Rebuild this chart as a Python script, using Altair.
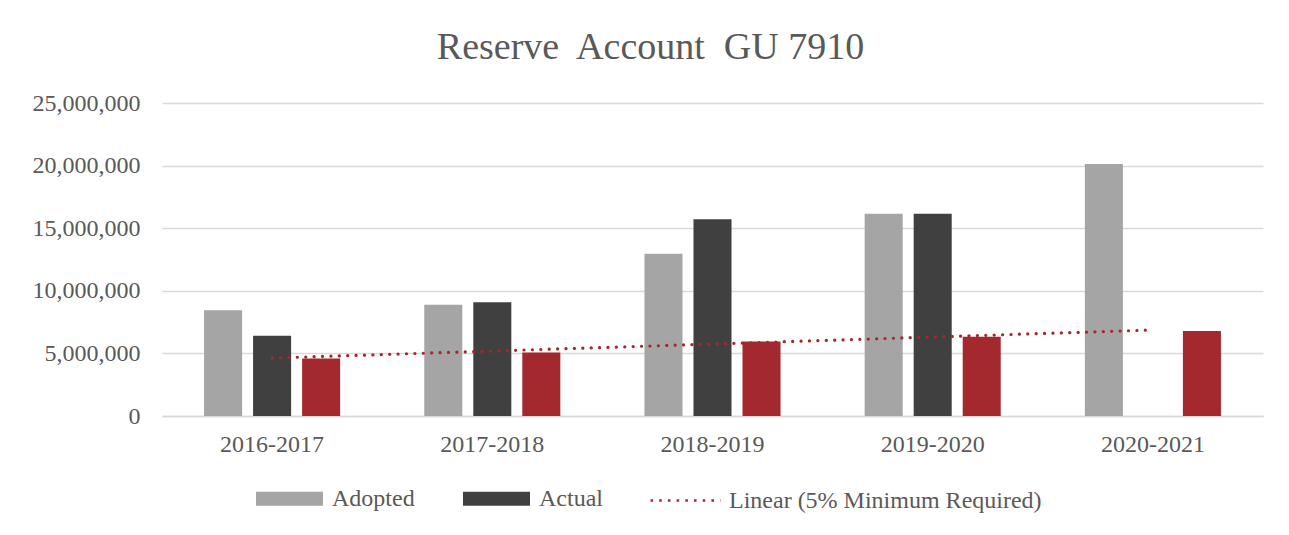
import json
import altair as alt
import pandas as pd

# ---- data ----
years = ["2016-2017", "2017-2018", "2018-2019", "2019-2020", "2020-2021"]
adopted = [8450000, 8890000, 12950000, 16160000, 20130000]
actual = [6410000, 9090000, 15710000, 16160000, None]
minimum = [4600000, 5080000, 5960000, 6330000, 6780000]

series_names = ["Adopted", "Actual", "5% Minimum Required"]
series_colors = ["#A5A5A5", "#404040", "#A4292F"]
legend_series = ["Adopted", "Actual"]
trend_label = "Linear (5% Minimum Required)"
y_ticks = [0, 5000000, 10000000, 15000000, 20000000, 25000000]
title_text = "Reserve\u00a0 Account\u00a0 GU 7910"

rows = []
for name, vals in zip(series_names, [adopted, actual, minimum]):
    for yr, v in zip(years, vals):
        if v is not None:
            rows.append({"year": yr, "series": name, "value": v})
df = pd.DataFrame(rows)

trend_df = pd.DataFrame({
    "idx": list(range(1, len(years) + 1)),
    "value": minimum,
    "trend": [trend_label] * len(years),
})

FONT = "Liberation Serif"
TXT = "#595959"
GRID = "#D9D9D9"

x_enc = alt.X(
    "year:N", sort=years,
    scale=alt.Scale(paddingInner=0.382, paddingOuter=0.191),
    axis=alt.Axis(title=None, labelAngle=0, ticks=False, domain=True,
                  domainColor=GRID, domainWidth=1.5, labelPadding=16,
                  labelFont=FONT, labelFontSize=24, labelColor=TXT, grid=False),
)
y_enc = alt.Y(
    "value:Q",
    scale=alt.Scale(domain=[0, 25000000], nice=False),
    axis=alt.Axis(title=None, values=y_ticks, format=",d", ticks=False, domain=False,
                  grid=True, gridColor=GRID, gridWidth=1.5, labelPadding=22,
                  labelFont=FONT, labelFontSize=24, labelColor=TXT),
)

bars = alt.Chart(df).mark_bar().encode(
    x=x_enc,
    xOffset=alt.XOffset("series:N", sort=series_names,
                        scale=alt.Scale(paddingInner=0.224, paddingOuter=0)),
    y=y_enc,
    color=alt.Color(
        "series:N",
        scale=alt.Scale(domain=series_names, range=series_colors),
        legend=alt.Legend(
            values=legend_series, title=None, orient="none", direction="horizontal",
            legendX=94, legendY=362, symbolType="M-1,-0.209H1V0.209H-1Z",
            symbolSize=4489, symbolStrokeWidth=0, labelOffset=9, columnPadding=48,
            labelFont=FONT, labelFontSize=24, labelColor=TXT, labelLimit=600,
        ),
    ),
)

trend = (
    alt.Chart(trend_df)
    .transform_regression("idx", "value", groupby=["trend"])
    .transform_calculate(year=json.dumps(years) + "[round(datum.idx) - 1]")
    .mark_line(strokeDash=[0.1, 8.3], strokeCap="round", strokeWidth=3.2)
    .encode(
        x=alt.X("year:N", sort=years),
        y=alt.Y("value:Q"),
        color=alt.Color(
            "trend:N",
            scale=alt.Scale(domain=[trend_label], range=["#A4292F"]),
            legend=alt.Legend(
                title=None, orient="none", legendX=487, legendY=361,
                symbolType="stroke", symbolSize=4900, symbolStrokeWidth=2.6,
                symbolDash=[2.6, 6.1], labelOffset=7, labelLimit=600,
                labelFont=FONT, labelFontSize=24, labelColor=TXT,
            ),
        ),
    )
)

chart = (
    alt.layer(bars, trend)
    .resolve_scale(color="independent")
    .properties(
        width=1101, height=313,
        view=alt.ViewBackground(strokeWidth=0, strokeOpacity=0),
        title=alt.Title(title_text, font=FONT, fontSize=38, fontWeight="normal",
                        color=TXT, anchor="middle", dx=-62, dy=26, offset=20,
                        baseline="alphabetic"),
        autosize=alt.AutoSizeParams(type="none"),
        padding={"left": 154, "top": 95, "right": 16, "bottom": 100},
    )
    .configure_view(strokeWidth=0, strokeOpacity=0)
    .configure(background="white")
)

chart.save("out.html", embed_options={"renderer": "svg", "actions": False})
